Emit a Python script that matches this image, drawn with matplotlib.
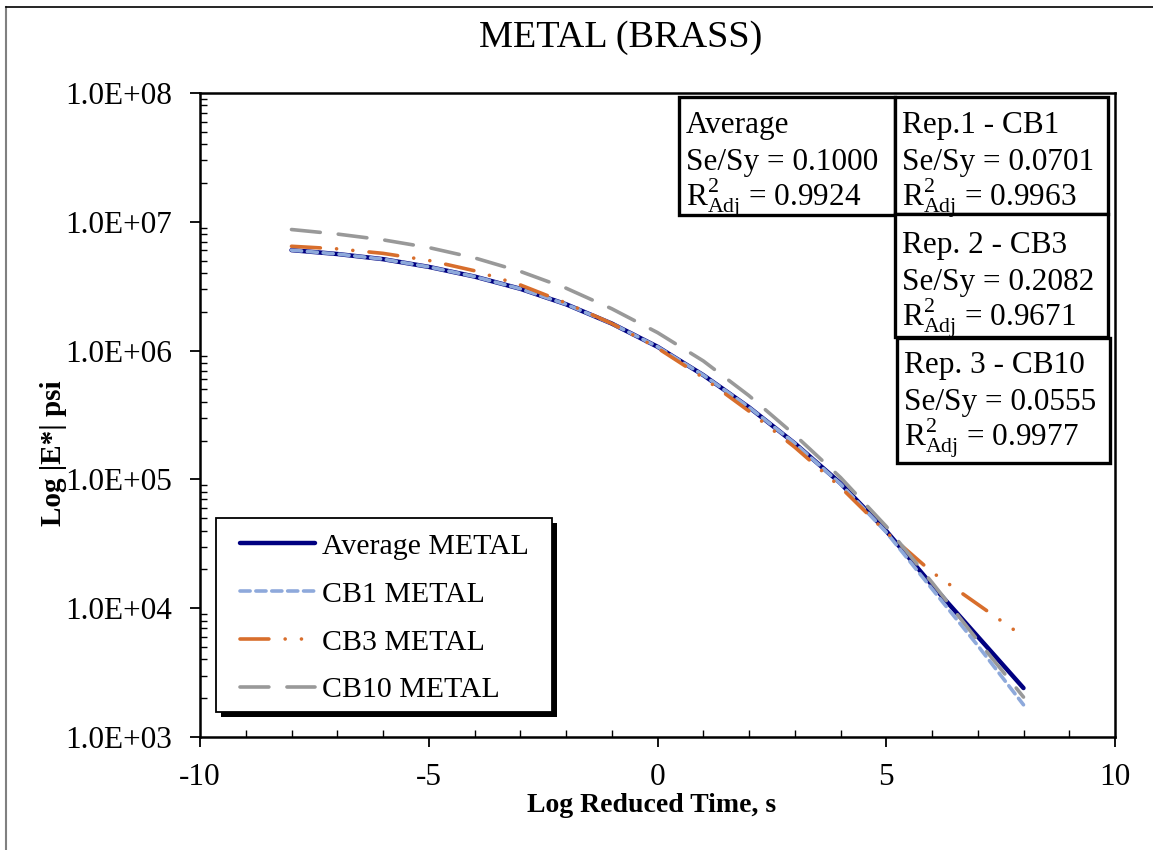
import matplotlib
matplotlib.use("Agg")
import matplotlib.pyplot as plt
from matplotlib.patches import Rectangle
from matplotlib.lines import Line2D
from matplotlib.ticker import LogLocator, MultipleLocator
import numpy as np

plt.rcParams['font.family'] = ['Liberation Serif', 'DejaVu Serif']
plt.rcParams['mathtext.fontset'] = 'custom'
plt.rcParams['mathtext.rm'] = 'Liberation Serif'
plt.rcParams['mathtext.it'] = 'Liberation Serif:italic'
plt.rcParams['axes.unicode_minus'] = False

# log reduced time, s
log_time = [-8, -7, -6, -5, -4, -3, -2, -1, 0, 1, 2, 3, 4, 5, 6, 7, 8]

# log10 |E*| (psi)
log_e_avg = [6.78, 6.75, 6.71, 6.65, 6.575, 6.48, 6.36, 6.21, 6.03,
             5.81, 5.56, 5.28, 4.97, 4.60, 4.18, 3.78, 3.38]
log_e_cb1 = [6.78, 6.75, 6.71, 6.65, 6.575, 6.48, 6.36, 6.21, 6.03,
             5.81, 5.56, 5.28, 4.965, 4.59, 4.15, 3.71, 3.25]
log_e_cb3 = [6.81, 6.79, 6.755, 6.70, 6.62, 6.51, 6.37, 6.21, 6.02,
             5.79, 5.53, 5.25, 4.94, 4.59, 4.28, 4.03, 3.78]
log_e_cb10 = [6.94, 6.905, 6.86, 6.80, 6.72, 6.615, 6.485, 6.325, 6.14,
              5.92, 5.65, 5.345, 5.015, 4.635, 4.20, 3.75, 3.31]

series_names = ["Average METAL", "CB1 METAL", "CB3 METAL", "CB10 METAL"]

box_titles = ["Average", "Rep.1 - CB1", "Rep. 2 - CB3", "Rep. 3 - CB10"]
se_sy = ["0.1000", "0.0701", "0.2082", "0.0555"]
r2_adj = ["0.9924", "0.9963", "0.9671", "0.9977"]

W, H = 1153, 850


def fx(x):
    return x / W


def fy(y):
    return 1 - y / H


fig = plt.figure(figsize=(W / 100, H / 100), dpi=100)
ax = fig.add_axes([fx(200), fy(737), fx(1115) - fx(200), fy(93) - fy(737)])

t = np.array(log_time)
ax.plot(t, 10 ** np.array(log_e_avg), color='#000080', lw=3.2,
        solid_capstyle='round', label=series_names[0])
ax.plot(t, 10 ** np.array(log_e_cb1), color='#8EA9DB', lw=2.6,
        linestyle=(0, (2.8, 1.6)), dash_capstyle='round', label=series_names[1])
ax.plot(t, 10 ** np.array(log_e_cb3), color='#D86E2C', lw=2.6,
        linestyle=(0, (8, 4.5, 0.01, 4.5, 0.01, 4.5)), dash_capstyle='round',
        label=series_names[2])
ax.plot(t, 10 ** np.array(log_e_cb10), color='#999999', lw=2.6,
        linestyle=(0, (8, 5)), dash_capstyle='round', label=series_names[3])

ax.set_yscale('log')
ax.set_xlim(-10, 10)
ax.set_ylim(1e3, 1e8)

ax.xaxis.set_major_locator(MultipleLocator(5))
ax.xaxis.set_minor_locator(MultipleLocator(1))
ax.yaxis.set_major_locator(LogLocator(base=10, numticks=10))
ax.yaxis.set_minor_locator(LogLocator(base=10, subs=np.arange(2, 10), numticks=20))
ax.yaxis.set_major_formatter(plt.FuncFormatter(lambda v, p: f"{v:.1E}"))
ax.yaxis.set_minor_formatter(plt.NullFormatter())

ax.tick_params(which='major', direction='out', length=7, width=1.3,
               labelsize=22.5, color='black')
ax.tick_params(axis='y', which='major', pad=13)
ax.tick_params(axis='x', which='major', pad=12)
ax.tick_params(which='minor', direction='in', length=5, width=1.0)
for s in ax.spines.values():
    s.set_linewidth(1.8)
    s.set_color('black')

fig.text(fx(652), fy(805), "Log Reduced Time, s", fontsize=20,
         fontweight='bold', ha='center', va='center')
fig.text(fx(54), fy(453), "Log |E*| psi", fontsize=21, fontweight='bold',
         rotation=90, ha='center', va='center')
fig.text(fx(621), fy(38), "METAL (BRASS)", fontsize=27.5, ha='center',
         va='center')

# outer chart border (left and top edges visible)
fig.add_artist(Line2D([fx(6), fx(6)], [fy(7), 0], color='#808080', lw=1.5))
fig.add_artist(Line2D([fx(6), 1], [fy(7), fy(7)], color='black', lw=1.2))

# fit statistics boxes
boxes = [(679, 97, 895, 215), (895, 97, 1108, 214),
         (895, 214, 1108, 337), (897, 338, 1110, 463)]
baselines = [(133, 170, 205), (133, 170, 205), (253, 290, 325), (373, 410, 445)]
for i, (x0, y0, x1, y1) in enumerate(boxes):
    fig.add_artist(Rectangle((fx(x0), fy(y1)), fx(x1) - fx(x0), fy(y0) - fy(y1),
                             transform=fig.transFigure, facecolor='white',
                             edgecolor='black', lw=2.4, zorder=3))
    bl = baselines[i]
    tx = fx(x0 + 7)
    fig.text(tx, fy(bl[0]), box_titles[i], fontsize=22.5, va='baseline', zorder=4)
    fig.text(tx, fy(bl[1]), "Se/Sy = " + se_sy[i], fontsize=22.5,
             va='baseline', zorder=4)
    fig.text(tx, fy(bl[2]), r"R$^{2}_{\mathrm{Adj}}$ = " + r2_adj[i],
             fontsize=22.5, va='baseline', zorder=4)

# legend: own frame with a solid black drop shadow, Excel style
lx0, ly0, lx1, ly1 = 216, 518, 552, 712
ax.add_patch(Rectangle((fx(lx0) + 5 / W, fy(ly1) - 5 / H), fx(lx1) - fx(lx0),
                       fy(ly0) - fy(ly1), transform=fig.transFigure,
                       facecolor='black', edgecolor='none', clip_on=False,
                       zorder=4.7))
ax.add_patch(Rectangle((fx(lx0), fy(ly1)), fx(lx1) - fx(lx0),
                       fy(ly0) - fy(ly1), transform=fig.transFigure,
                       facecolor='white', edgecolor='black', lw=1.3,
                       clip_on=False, zorder=4.8))
leg = ax.legend(loc='upper left', bbox_to_anchor=(fx(240), fy(533)),
                bbox_transform=fig.transFigure, borderaxespad=0, borderpad=0,
                fontsize=21.5, frameon=False, handlelength=2.5,
                handletextpad=0.25, labelspacing=0.7)
leg.set_zorder(5)

fig.savefig("out.png", dpi=100)
